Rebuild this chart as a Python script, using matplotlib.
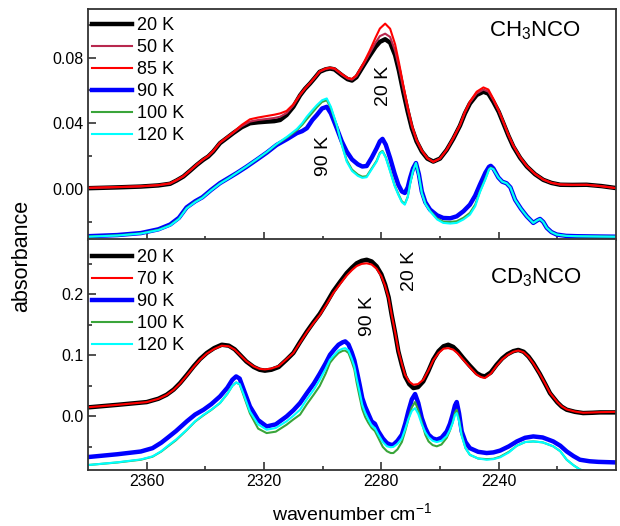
import matplotlib
matplotlib.use("Agg")
import matplotlib.pyplot as plt
from matplotlib.ticker import FixedLocator, MultipleLocator, FormatStrFormatter

plt.rcParams['font.family'] = ['Liberation Sans', 'DejaVu Sans']
plt.rcParams['mathtext.fontset'] = 'custom'
plt.rcParams['mathtext.rm'] = 'Liberation Sans'
plt.rcParams['mathtext.it'] = 'Liberation Sans:italic'
plt.rcParams['mathtext.bf'] = 'Liberation Sans:bold'

# ---------------- CH3NCO (top panel) ----------------
top_hi_wn = [2380, 2370, 2362, 2356, 2352, 2349.8, 2347.5, 2345.2, 2342.9, 2340.7,
             2339, 2337.3, 2335, 2332.7, 2330.5, 2327.6, 2324.8, 2322, 2319.1, 2316.5,
             2314.5, 2312.3, 2310, 2307.7, 2306, 2304.3, 2302.5, 2301, 2299, 2297.5,
             2296, 2293.5, 2291.5, 2290, 2288.5, 2286, 2284, 2282, 2280.5, 2278.7,
             2277, 2275.3, 2274, 2272.5, 2271, 2269.6, 2268, 2266.2, 2264.3, 2262.3,
             2260, 2257.7, 2255.5, 2253.2, 2251.5, 2249.8, 2247.5, 2245.2, 2243.5, 2241.8,
             2240, 2238.4, 2236.7, 2235, 2232.7, 2230.4, 2227.6, 2224.8, 2222, 2219,
             2215, 2210, 2205, 2200]
ch_20K = [0.0005, 0.0010, 0.0015, 0.0022, 0.0032, 0.0052, 0.0076, 0.0111, 0.0147, 0.0178,
          0.0198, 0.0228, 0.0279, 0.0310, 0.0340, 0.0376, 0.0400, 0.0406, 0.0410, 0.0413,
          0.0420, 0.0450, 0.0500, 0.0570, 0.0610, 0.0642, 0.0680, 0.0713, 0.0728, 0.0733,
          0.0728, 0.0693, 0.0668, 0.0660, 0.0680, 0.0753, 0.0810, 0.0864, 0.0895, 0.0911,
          0.0890, 0.0814, 0.0720, 0.0590, 0.0470, 0.0370, 0.0290, 0.0228, 0.0185, 0.0167,
          0.0185, 0.0238, 0.0305, 0.0385, 0.0460, 0.0520, 0.0572, 0.0592, 0.0580, 0.0530,
          0.0470, 0.0400, 0.0325, 0.0258, 0.0190, 0.0137, 0.0090, 0.0056, 0.0037, 0.0026,
          0.0025, 0.0026, 0.0018, 0.0006]
ch_50K = [0.0006, 0.0011, 0.0016, 0.0023, 0.0033, 0.0053, 0.0077, 0.0112, 0.0148, 0.0180,
          0.0200, 0.0230, 0.0281, 0.0312, 0.0342, 0.0382, 0.0410, 0.0420, 0.0426, 0.0432,
          0.0440, 0.0462, 0.0508, 0.0572, 0.0611, 0.0643, 0.0681, 0.0714, 0.0730, 0.0735,
          0.0731, 0.0696, 0.0672, 0.0665, 0.0686, 0.0760, 0.0825, 0.0890, 0.0930, 0.0945,
          0.0925, 0.0840, 0.0740, 0.0610, 0.0485, 0.0380, 0.0295, 0.0232, 0.0187, 0.0166,
          0.0185, 0.0239, 0.0307, 0.0387, 0.0465, 0.0526, 0.0582, 0.0605, 0.0592, 0.0540,
          0.0475, 0.0405, 0.0328, 0.0262, 0.0192, 0.0139, 0.0091, 0.0057, 0.0037, 0.0027,
          0.0025, 0.0026, 0.0018, 0.0006]
ch_85K = [0.0008, 0.0012, 0.0017, 0.0024, 0.0035, 0.0055, 0.0078, 0.0113, 0.0150, 0.0181,
          0.0202, 0.0232, 0.0283, 0.0315, 0.0345, 0.0390, 0.0424, 0.0435, 0.0444, 0.0452,
          0.0460, 0.0475, 0.0515, 0.0575, 0.0612, 0.0645, 0.0683, 0.0716, 0.0733, 0.0738,
          0.0734, 0.0700, 0.0676, 0.0670, 0.0692, 0.0768, 0.0840, 0.0920, 0.0976, 0.1006,
          0.0975, 0.0880, 0.0770, 0.0630, 0.0500, 0.0390, 0.0300, 0.0235, 0.0188, 0.0165,
          0.0186, 0.0240, 0.0310, 0.0390, 0.0470, 0.0532, 0.0592, 0.0618, 0.0605, 0.0548,
          0.0480, 0.0410, 0.0332, 0.0265, 0.0195, 0.0140, 0.0092, 0.0058, 0.0038, 0.0028,
          0.0026, 0.0026, 0.0017, 0.0005]

top_lo_wn = [2380, 2370, 2362, 2356, 2352, 2349, 2346.4, 2343.5, 2341, 2338,
             2335, 2332, 2329.3, 2326, 2322.5, 2319, 2315.7, 2312, 2308.8, 2307,
             2305.4, 2303.5, 2302, 2300.2, 2298.6, 2297.2, 2295.2, 2293.5, 2291.8, 2290,
             2288, 2286.5, 2285, 2283.3, 2281.6, 2280.5, 2279.6, 2278.5, 2277, 2275.5,
             2274.2, 2273, 2272, 2271, 2270.2, 2269.2, 2268.2, 2267.2, 2266.2, 2265,
             2263.4, 2261, 2258.9, 2256.5, 2254.3, 2252, 2249.8, 2248, 2246.4, 2244.5,
             2243.3, 2242.7, 2241.8, 2240.1, 2238.8, 2237.3, 2236, 2234.4, 2232.4, 2230.4,
             2228.2, 2226.8, 2225.9, 2224.8, 2223.6, 2222, 2220.2, 2217, 2213.4, 2205,
             2200]
ch_90K = [-0.0287, -0.0280, -0.0268, -0.0245, -0.0216, -0.0175, -0.0112, -0.0075, -0.0050, -0.0005,
          0.0036, 0.0068, 0.0097, 0.0135, 0.0178, 0.0222, 0.0268, 0.0305, 0.0340, 0.0352,
          0.0370, 0.0420, 0.0450, 0.0490, 0.0500, 0.0460, 0.0370, 0.0290, 0.0228, 0.0180,
          0.0150, 0.0137, 0.0140, 0.0190, 0.0248, 0.0290, 0.0305, 0.0270, 0.0188, 0.0095,
          0.0026, -0.0015, -0.0024, 0.0010, 0.0067, 0.0125, 0.0158, 0.0090, -0.0015, -0.0080,
          -0.0125, -0.0160, -0.0176, -0.0178, -0.0166, -0.0135, -0.0095, -0.0040, 0.0026, 0.0100,
          0.0135, 0.0141, 0.0125, 0.0070, 0.0045, 0.0035, 0.0010, -0.0065, -0.0120, -0.0166,
          -0.0206, -0.0190, -0.0182, -0.0200, -0.0236, -0.0262, -0.0277, -0.0285, -0.0287, -0.0289,
          -0.0290]
ch_100K = [-0.0289, -0.0282, -0.0270, -0.0248, -0.0220, -0.0180, -0.0116, -0.0078, -0.0052, -0.0007,
           0.0034, 0.0067, 0.0098, 0.0136, 0.0180, 0.0224, 0.0272, 0.0315, 0.0358, 0.0390,
           0.0425, 0.0465, 0.0497, 0.0530, 0.0540, 0.0492, 0.0385, 0.0272, 0.0175, 0.0118,
           0.0088, 0.0075, 0.0078, 0.0125, 0.0172, 0.0220, 0.0232, 0.0195, 0.0112, 0.0025,
           -0.0030, -0.0075, -0.0090, -0.0047, 0.0032, 0.0110, 0.0158, 0.0082, -0.0022, -0.0087,
           -0.0132, -0.0180, -0.0198, -0.0200, -0.0196, -0.0175, -0.0145, -0.0095, -0.0015, 0.0065,
           0.0120, 0.0130, 0.0122, 0.0070, 0.0045, 0.0035, 0.0010, -0.0065, -0.0120, -0.0166,
           -0.0206, -0.0190, -0.0182, -0.0200, -0.0236, -0.0262, -0.0277, -0.0285, -0.0287, -0.0289,
           -0.0290]
ch_120K = [-0.0290, -0.0283, -0.0271, -0.0250, -0.0222, -0.0182, -0.0118, -0.0080, -0.0054, -0.0008,
           0.0033, 0.0066, 0.0098, 0.0137, 0.0181, 0.0226, 0.0274, 0.0320, 0.0365, 0.0400,
           0.0440, 0.0480, 0.0510, 0.0540, 0.0551, 0.0500, 0.0390, 0.0270, 0.0167, 0.0110,
           0.0080, 0.0068, 0.0072, 0.0120, 0.0167, 0.0215, 0.0228, 0.0190, 0.0107, 0.0020,
           -0.0035, -0.0080, -0.0095, -0.0050, 0.0030, 0.0110, 0.0158, 0.0080, -0.0025, -0.0090,
           -0.0135, -0.0185, -0.0206, -0.0210, -0.0206, -0.0185, -0.0156, -0.0105, -0.0020, 0.0060,
           0.0118, 0.0127, 0.0120, 0.0070, 0.0045, 0.0035, 0.0010, -0.0065, -0.0120, -0.0166,
           -0.0206, -0.0190, -0.0182, -0.0200, -0.0236, -0.0262, -0.0277, -0.0285, -0.0287, -0.0289,
           -0.0290]

# ---------------- CD3NCO (bottom panel) ----------------
bot_hi_wn = [2380, 2370, 2360, 2356, 2353.2, 2350.8, 2348.6, 2346.3, 2344, 2341.8,
             2339.5, 2337, 2334.4, 2332, 2330, 2328.2, 2326, 2323.5, 2321.5, 2319.7,
             2317.5, 2315, 2312.3, 2310, 2307.7, 2305.4, 2303.2, 2301, 2298.7, 2296.4,
             2294, 2291.8, 2290, 2288.4, 2286.7, 2285, 2283.3, 2281.6, 2280, 2278.7,
             2277.5, 2276.5, 2275.3, 2274.2, 2273, 2271.9, 2270.5, 2269.1, 2267.5, 2265.7,
             2264, 2262.3, 2260.5, 2258.8, 2257.2, 2255.5, 2254, 2252.1, 2250, 2247.5,
             2246, 2244.7, 2242.7, 2240.7, 2238.8, 2237, 2235, 2233.3, 2231.5, 2229.8,
             2228.2, 2226, 2224, 2222.5, 2220, 2218.5, 2216.8, 2214, 2211.2, 2208,
             2205.5, 2200]
cd_20K = [0.0148, 0.0190, 0.0235, 0.0290, 0.0355, 0.0440, 0.0547, 0.0680, 0.0820, 0.0940,
          0.1040, 0.1120, 0.1175, 0.1160, 0.1100, 0.1010, 0.0900, 0.0810, 0.0765, 0.0750,
          0.0765, 0.0810, 0.0930, 0.1040, 0.1220, 0.1390, 0.1540, 0.1680, 0.1860, 0.2050,
          0.2210, 0.2350, 0.2440, 0.2510, 0.2550, 0.2568, 0.2540, 0.2460, 0.2330, 0.2160,
          0.1950, 0.1670, 0.1370, 0.1066, 0.0840, 0.0656, 0.0530, 0.0465, 0.0480, 0.0574,
          0.0740, 0.0930, 0.1070, 0.1150, 0.1175, 0.1140, 0.1070, 0.0957, 0.0840, 0.0711,
          0.0670, 0.0656, 0.0720, 0.0847, 0.0950, 0.1020, 0.1070, 0.1090, 0.1060, 0.0980,
          0.0875, 0.0700, 0.0520, 0.0380, 0.0230, 0.0160, 0.0110, 0.0075, 0.0055, 0.0060,
          0.0066, 0.0066]
cd_70K = [0.0150, 0.0190, 0.0235, 0.0288, 0.0352, 0.0435, 0.0540, 0.0672, 0.0810, 0.0930,
          0.1030, 0.1105, 0.1160, 0.1150, 0.1095, 0.1010, 0.0905, 0.0820, 0.0780, 0.0770,
          0.0785, 0.0825, 0.0940, 0.1040, 0.1210, 0.1380, 0.1525, 0.1660, 0.1835, 0.2020,
          0.2175, 0.2310, 0.2400, 0.2465, 0.2500, 0.2510, 0.2490, 0.2420, 0.2300, 0.2140,
          0.1940, 0.1670, 0.1380, 0.1080, 0.0860, 0.0680, 0.0570, 0.0520, 0.0530, 0.0600,
          0.0750, 0.0920, 0.1040, 0.1110, 0.1120, 0.1095, 0.1035, 0.0930, 0.0815, 0.0685,
          0.0645, 0.0630, 0.0700, 0.0830, 0.0935, 0.1005, 0.1060, 0.1080, 0.1052, 0.0975,
          0.0870, 0.0700, 0.0525, 0.0385, 0.0235, 0.0165, 0.0115, 0.0080, 0.0060, 0.0065,
          0.0070, 0.0075]

bot_lo_wn = [2380, 2370, 2362, 2358, 2355, 2353, 2350, 2346.3, 2343.5, 2340.6,
             2338, 2335, 2332.5, 2330.8, 2329.5, 2328.3, 2327, 2324.8, 2322, 2319.1,
             2316, 2312.3, 2310, 2307.7, 2305.4, 2303, 2301, 2299, 2297.5, 2296,
             2294.6, 2293.2, 2292.3, 2291.2, 2290.1, 2289.2, 2288.4, 2287.4, 2286.5, 2285.5,
             2284.5, 2283.3, 2282.2, 2281, 2279.5, 2278.1, 2276.8, 2275.9, 2274.5, 2273,
             2271.8, 2270.8, 2269.6, 2268.5, 2267.4, 2266.2, 2265, 2263.9, 2262.5, 2261.1,
             2259.5, 2257.7, 2256.6, 2255.7, 2254.9, 2254.3, 2253.5, 2252.6, 2251.3, 2249.8,
             2247, 2244.1, 2241.8, 2239.5, 2236.5, 2233.8, 2231, 2228.2, 2225, 2221.4,
             2219, 2216.8, 2214.5, 2212.3, 2209, 2206, 2200]
cd_90K = [-0.0666, -0.0620, -0.0575, -0.0520, -0.0430, -0.0355, -0.0240, -0.0080, 0.0030, 0.0110,
          0.0200, 0.0328, 0.0470, 0.0600, 0.0656, 0.0620, 0.0450, 0.0164, -0.0060, -0.0164,
          -0.0130, 0.0000, 0.0100, 0.0220, 0.0380, 0.0540, 0.0700, 0.0870, 0.1010, 0.1100,
          0.1175, 0.1215, 0.1230, 0.1180, 0.1050, 0.0920, 0.0750, 0.0520, 0.0300, 0.0160,
          0.0050, -0.0082, -0.0120, -0.0246, -0.0360, -0.0437, -0.0465, -0.0464, -0.0400, -0.0300,
          -0.0110, 0.0082, 0.0280, 0.0367, 0.0220, -0.0027, -0.0190, -0.0300, -0.0360, -0.0380,
          -0.0350, -0.0246, -0.0120, 0.0027, 0.0180, 0.0236, 0.0050, -0.0246, -0.0420, -0.0520,
          -0.0580, -0.0600, -0.0590, -0.0560, -0.0490, -0.0410, -0.0350, -0.0328, -0.0345, -0.0410,
          -0.0480, -0.0574, -0.0650, -0.0710, -0.0735, -0.0745, -0.0754]
cd_100K = [-0.0797, -0.0755, -0.0710, -0.0660, -0.0575, -0.0500, -0.0390, -0.0222, -0.0085, 0.0020,
           0.0105, 0.0220, 0.0370, 0.0500, 0.0557, 0.0525, 0.0350, 0.0050, -0.0200, -0.0273,
           -0.0250, -0.0136, -0.0050, 0.0030, 0.0200, 0.0360, 0.0500, 0.0700, 0.0880, 0.0970,
           0.1040, 0.1075, 0.1080, 0.1040, 0.0900, 0.0770, 0.0550, 0.0320, 0.0120, -0.0010,
           -0.0100, -0.0190, -0.0240, -0.0355, -0.0500, -0.0570, -0.0600, -0.0600, -0.0540, -0.0420,
           -0.0230, -0.0050, 0.0150, 0.0236, 0.0100, -0.0100, -0.0300, -0.0410, -0.0470, -0.0490,
           -0.0460, -0.0350, -0.0230, -0.0100, 0.0060, 0.0110, -0.0050, -0.0300, -0.0520, -0.0630,
           -0.0690, -0.0700, -0.0695, -0.0660, -0.0580, -0.0480, -0.0420, -0.0410, -0.0425, -0.0490,
           -0.0570, -0.0710, -0.0800, -0.0870, -0.0920, -0.0950, -0.0980]
cd_120K = [-0.0797, -0.0752, -0.0705, -0.0655, -0.0570, -0.0490, -0.0380, -0.0218, -0.0080, 0.0028,
           0.0110, 0.0220, 0.0370, 0.0500, 0.0557, 0.0530, 0.0370, 0.0082, -0.0130, -0.0218,
           -0.0190, -0.0080, 0.0010, 0.0110, 0.0280, 0.0440, 0.0600, 0.0780, 0.0930, 0.1010,
           0.1080, 0.1110, 0.1120, 0.1080, 0.0950, 0.0820, 0.0620, 0.0400, 0.0190, 0.0060,
           -0.0040, -0.0150, -0.0190, -0.0300, -0.0420, -0.0490, -0.0505, -0.0500, -0.0450, -0.0360,
           -0.0200, -0.0050, 0.0090, 0.0137, 0.0040, -0.0130, -0.0260, -0.0340, -0.0400, -0.0420,
           -0.0400, -0.0320, -0.0220, -0.0110, 0.0020, 0.0055, -0.0080, -0.0320, -0.0520, -0.0630,
           -0.0690, -0.0710, -0.0700, -0.0670, -0.0590, -0.0480, -0.0420, -0.0410, -0.0425, -0.0490,
           -0.0570, -0.0710, -0.0800, -0.0870, -0.0920, -0.0950, -0.0980]

x_major = [2360, 2320, 2280, 2240]
x_minor = [2340, 2300, 2260, 2220]

TH, TN = 3.2, 1.5
c_black, c_dred, c_red = 'black', '#B8284E', '#FF0000'
c_blue, c_green, c_cyan = '#0000FF', '#3AA53A', '#00FFFF'

fig = plt.figure(figsize=(6.2, 5.26), dpi=100)
L, R = 88 / 620, 616 / 620
ax1 = fig.add_axes([L, 1 - 239.5 / 526, R - L, (239.5 - 9) / 526])
ax2 = fig.add_axes([L, 1 - 469.5 / 526, R - L, (469.5 - 239.5) / 526])

ax1.plot(top_hi_wn, ch_20K, color=c_black, lw=TH, label='20 K')
ax1.plot(top_hi_wn, ch_50K, color=c_dred, lw=TN, label='50 K')
ax1.plot(top_hi_wn, ch_85K, color=c_red, lw=TN, label='85 K')
ax1.plot(top_lo_wn, ch_90K, color=c_blue, lw=TH, label='90 K')
ax1.plot(top_lo_wn, ch_100K, color=c_green, lw=TN, label='100 K')
ax1.plot(top_lo_wn, ch_120K, color=c_cyan, lw=TN, label='120 K')

ax2.plot(bot_hi_wn, cd_20K, color=c_black, lw=TH, label='20 K')
ax2.plot(bot_hi_wn, cd_70K, color=c_red, lw=TN, label='70 K')
ax2.plot(bot_lo_wn, cd_90K, color=c_blue, lw=TH, label='90 K')
ax2.plot(bot_lo_wn, cd_100K, color=c_green, lw=TN, label='100 K')
ax2.plot(bot_lo_wn, cd_120K, color=c_cyan, lw=TN, label='120 K')

for ax, ly in ((ax1, 0.966), (ax2, 0.958)):
    ax.set_xlim(2380, 2200)
    ax.xaxis.set_major_locator(FixedLocator(x_major))
    ax.xaxis.set_minor_locator(FixedLocator(x_minor))
    ax.tick_params(which='both', direction='in', top=False, right=False, labelsize=11.5,
                   color='#222222')
    ax.tick_params(which='major', length=6, width=1.1)
    ax.tick_params(which='minor', length=3, width=1.1)
    for s in ax.spines.values():
        s.set_linewidth(1.3)
        s.set_color('#333333')
    ax.legend(loc='upper left', bbox_to_anchor=(0.008, ly), frameon=False, fontsize=13,
              handlelength=2.2, handletextpad=0.3, labelspacing=0.28, borderaxespad=0, borderpad=0)

ax1.set_ylim(-0.0307, 0.1095)
ax1.yaxis.set_major_locator(MultipleLocator(0.04))
ax1.yaxis.set_minor_locator(MultipleLocator(0.02))
ax1.yaxis.set_major_formatter(FormatStrFormatter('%.2f'))
ax1.tick_params(axis='x', labelbottom=False)

ax2.set_ylim(-0.087, 0.290)
ax2.yaxis.set_major_locator(MultipleLocator(0.1))
ax2.yaxis.set_minor_locator(MultipleLocator(0.05))
ax2.yaxis.set_major_formatter(FormatStrFormatter('%.1f'))

ax1.text(0.76, 0.905, 'CH$_3$NCO', transform=ax1.transAxes, fontsize=16, ha='left', va='center')
ax2.text(0.762, 0.833, 'CD$_3$NCO', transform=ax2.transAxes, fontsize=16, ha='left', va='center')

for x, y, t in [(383, 86, '20 K'), (323, 156, '90 K'), (410, 271, '20 K'), (367, 316, '90 K')]:
    fig.text(x / 620, 1 - y / 526, t, rotation=90, fontsize=14, ha='center', va='center')

fig.text(352 / 620, 1 - 513 / 526, 'wavenumber cm$^{-1}$', fontsize=14, ha='center', va='center')
fig.text(22 / 620, 1 - 256 / 526, 'absorbance', fontsize=15.5, ha='center', va='center', rotation=90)

fig.savefig('out.png', dpi=100)
